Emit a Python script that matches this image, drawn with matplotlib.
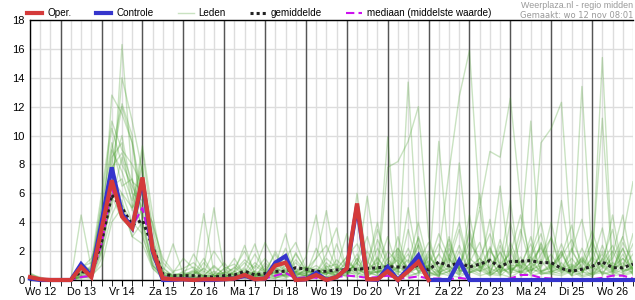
import numpy as np
import matplotlib
matplotlib.use("Agg")
import matplotlib.pyplot as plt

# --- data: 6-hourly values (mm), from Wo 12 06:00 to Do 27 00:00 ---
days = ["Wo 12", "Do 13", "Vr 14", "Za 15", "Zo 16", "Ma 17", "Di 18", "Wo 19",
        "Do 20", "Vr 21", "Za 22", "Zo 23", "Ma 24", "Di 25", "Wo 26"]
t = np.arange(1, 61) * 0.25          # time in days since Wo 12 00:00

oper = [0.2, 0.05, 0, 0, 0, 0.9, 0.2, 3.5, 6.9, 4.4, 3.6, 7.1, 2.1, 0.1, 0.05, 0.05,
        0.0, 0.05, 0.05, 0.05, 0.1, 0.35, 0.05, 0.1, 1.0, 1.2, 0.0, 0.05, 0.35, 0.0,
        0.2, 0.8, 5.3, 0.05, 0.05, 0.6, 0.0, 0.6, 1.25, 0.0]

controle = [0.1, 0, 0, 0, 0, 1.1, 0.3, 4.0, 7.8, 4.6, 3.6, 6.9, 2.0, 0.0, 0.0, 0.05,
            0, 0, 0, 0.05, 0.1, 0.3, 0.05, 0.1, 1.2, 1.65, 0.0, 0.05, 0.5, 0.0,
            0.2, 0.8, 5.1, 0.05, 0.0, 0.9, 0.0, 0.8, 1.7, 0.0, 0.0, 0.0, 1.35, 0,
            0, 0, 0, 0, 0, 0, 0, 0, 0, 0, 0, 0, 0, 0, 0, 0]

gemiddelde = [0.15, 0.05, 0, 0, 0, 0.6, 0.45, 2.6, 5.9, 5.0, 3.8, 4.15, 2.3, 0.4, 0.3,
              0.3, 0.3, 0.25, 0.2, 0.3, 0.35, 0.6, 0.35, 0.45, 0.6, 0.6, 0.85, 0.75,
              0.6, 0.6, 0.7, 0.7, 0.75, 0.8, 0.85, 0.92, 0.9, 0.88, 1.0, 0.7, 1.25,
              0.97, 1.2, 0.9, 1.1, 1.34, 0.92, 1.27, 1.3, 1.34, 1.2, 1.2, 0.8, 0.6,
              0.75, 0.95, 1.25, 0.85, 0.85, 1.1]

mediaan = [0.05, 0, 0, 0, 0, 0.2, 0.3, 2.5, 6.3, 4.6, 3.7, 5.0, 2.0, 0.2, 0.1, 0.1,
           0.05, 0.05, 0.05, 0.1, 0.1, 0.2, 0.05, 0.1, 0.3, 0.5, 0.1, 0.2, 0.15, 0.1,
           0.2, 0.3, 0.25, 0.15, 0.2, 0.3, 0.1, 0.15, 0.25, 0.1, 0.1, 0.05, 0.15, 0.05,
           0.05, 0.0, 0.05, 0.1, 0.35, 0.35, 0.15, 0.1, 0.05, 0.0, 0.05, 0.05, 0.15,
           0.3, 0.3, 0.1]

# ensemble members ("Leden"), 4 values per day
leden = [
    [0.4, 0.2, 0, 0, 0, 1.2, 0.6, 4.0, 8.5, 9.5, 5.0, 6.0, 2.5, 0.6, 0.2, 0.1, 0.3, 0, 0.2, 0.8,
     0.3, 0.5, 1.8, 0.6, 0.2, 1.5, 2.6, 0.8, 0.3, 1.0, 0.2, 0.6, 1.8, 0.5, 2.8, 1.2, 0.4, 3.5, 0.8, 1.0,
     0.2, 2.2, 0.6, 4.5, 0.8, 1.5, 0.3, 2.6, 0.9, 1.8, 4.0, 0.5, 1.2, 0.3, 2.2, 0.6, 1.4, 3.5, 0.4, 1.0],
    [0.2, 0, 0, 0, 0, 0.3, 0.2, 2.0, 12.8, 11.5, 9.5, 4.0, 1.0, 0.3, 0.5, 1.5, 0.8, 0.2, 0, 0.1,
     0.6, 2.4, 0.4, 0.3, 0.7, 0.2, 0.5, 1.6, 4.5, 0.6, 0.2, 0.4, 1.2, 3.0, 0.5, 0.9, 0.6, 13.7, 2.0, 0.5,
     0.3, 1.4, 0.8, 3.2, 0.6, 2.0, 1.1, 5.5, 0.2, 0.8, 2.5, 0.5, 1.7, 3.8, 0.6, 0.2, 1.5, 0.8, 2.2, 0.3],
    [0.1, 0, 0, 0, 0, 0.8, 1.5, 3.0, 5.0, 16.3, 7.0, 4.5, 3.0, 0.4, 0.1, 0, 0.2, 4.6, 0.5, 0.2,
     0.1, 0.4, 0.3, 0.6, 1.8, 0.5, 0.2, 0.8, 0.3, 1.2, 0.5, 0.2, 1.5, 0.4, 0.8, 9.9, 1.0, 0.4, 2.5, 0.6,
     0.2, 2.5, 0.8, 1.2, 6.0, 0.4, 1.0, 0.3, 2.8, 11.0, 0.5, 0.6, 2.0, 0.3, 1.6, 0.8, 15.4, 0.7, 1.2, 0.4],
    [0.3, 0.1, 0, 0, 0, 4.5, 0.8, 5.5, 10.5, 8.0, 6.5, 5.0, 4.0, 1.2, 0.5, 0.3, 0.2, 0.8, 5.0, 0.6,
     0.3, 0.9, 2.5, 0.4, 1.0, 3.2, 0.6, 0.3, 1.5, 4.8, 0.9, 0.5, 6.0, 1.3, 0.4, 7.8, 8.2, 9.6, 12.0, 3.0,
     0.6, 1.5, 0.4, 2.0, 5.0, 0.5, 2.0, 0.6, 1.3, 0.4, 2.6, 1.0, 0.5, 1.0, 0.3, 2.8, 0.9, 0.4, 1.5, 0.8],
    [0.2, 0, 0, 0, 0, 0.2, 0.1, 1.5, 6.0, 14.0, 11.0, 7.5, 2.0, 0.2, 0, 0.1, 0.1, 0.3, 0, 0.1,
     0.2, 0.8, 0.2, 1.2, 0.5, 0.3, 1.9, 0.6, 0.4, 0.2, 0.7, 1.6, 0.5, 0.2, 0.9, 3.0, 0.6, 5.0, 1.0, 0.4,
     1.8, 7.5, 12.7, 15.9, 5.0, 8.9, 8.5, 12.6, 5.4, 0.6, 1.2, 4.0, 0.8, 2.2, 0.6, 1.2, 3.6, 0.4, 1.0, 2.5],
    [0, 0, 0, 0, 0, 0.6, 0.4, 3.8, 7.0, 6.0, 4.0, 9.0, 3.5, 0.8, 0.3, 0.4, 0.6, 0.2, 0.4, 0.5,
     1.5, 0.3, 0.2, 0.4, 2.0, 0.7, 0.3, 0.5, 0.8, 0.3, 2.5, 0.6, 0.3, 1.1, 4.0, 0.5, 1.6, 0.8, 2.9, 0.5,
     9.6, 1.2, 3.5, 0.8, 0.4, 2.3, 0.5, 1.0, 1.0, 0.6, 9.5, 10.5, 12.3, 2.0, 0.9, 2.2, 0.3, 1.8, 4.5, 0.6],
    [0.3, 0, 0, 0, 0, 0.4, 0.9, 5.0, 9.0, 7.5, 5.5, 8.0, 1.5, 0.3, 0.1, 0.2, 0.4, 1.5, 0.3, 0.2,
     0.5, 1.2, 0.4, 0.2, 0.6, 2.2, 0.4, 0.3, 0.5, 1.8, 3.6, 0.5, 0.8, 0.4, 1.5, 0.6, 2.2, 0.7, 0.3, 1.8,
     0.5, 0.8, 8.1, 1.2, 0.6, 1.5, 0.4, 2.2, 0.7, 3.0, 0.5, 1.0, 1.8, 0.6, 13.4, 1.4, 11.2, 0.5, 3.0, 0.8],
    [0.1, 0, 0, 0, 0, 0.2, 0.5, 2.5, 5.5, 8.5, 6.0, 3.5, 1.2, 0.2, 0.1, 0.1, 0.2, 0.1, 0.4, 1.2,
     0.3, 0.2, 0.6, 0.4, 0.2, 0.3, 0.8, 0.4, 0.3, 0.6, 0.5, 1.2, 0.7, 0.5, 1.6, 0.4, 0.9, 1.8, 0.6, 1.0,
     2.5, 1.0, 0.3, 1.5, 0.9, 0.3, 0.8, 2.0, 0.4, 1.2, 0.6, 0.8, 2.0, 0.5, 0.9, 0.3, 0.8, 1.5, 3.0, 6.8],
    [0.5, 0.1, 0, 0, 0, 0.1, 0.3, 1.0, 4.0, 5.0, 3.0, 2.5, 0.8, 0.1, 0, 0, 0.1, 0, 0.1, 0.2,
     0.4, 0.1, 0.3, 0.2, 0.1, 0.4, 0.2, 0.3, 0.2, 0.5, 0.3, 0.9, 0.4, 0.6, 0.3, 1.5, 0.5, 0.9, 2.4, 0.3,
     0.4, 0.6, 1.3, 0.5, 1.2, 0.4, 0.3, 0.9, 0.6, 1.6, 0.4, 0.5, 0.9, 0.3, 0.5, 1.5, 0.4, 0.6, 0.3, 0.5],
    [0.3, 0, 0, 0, 0, 0.9, 1.2, 6.0, 11.0, 9.0, 8.0, 6.5, 3.8, 1.5, 0.6, 0.8, 1.2, 0.5, 2.0, 0.9,
     0.6, 1.4, 0.8, 2.6, 1.2, 0.6, 1.8, 0.7, 1.5, 2.4, 0.8, 1.6, 2.5, 1.0, 3.5, 1.4, 2.2, 1.2, 4.0, 1.0,
     3.2, 1.5, 0.9, 2.6, 1.5, 3.2, 1.1, 1.8, 4.5, 1.3, 2.3, 0.9, 1.6, 2.8, 1.2, 3.4, 1.2, 2.4, 0.8, 1.8],
    [0.2, 0, 0, 0, 0, 0.5, 0.8, 4.5, 7.5, 10.0, 6.0, 5.5, 2.2, 0.5, 0.3, 0.2, 0.6, 0.3, 1.0, 0.4,
     0.2, 0.6, 0.3, 0.8, 0.4, 1.0, 0.5, 0.9, 0.6, 0.4, 1.4, 0.7, 1.0, 5.8, 0.9, 0.6, 1.8, 0.7, 1.2, 2.6,
     0.8, 1.6, 4.0, 0.9, 1.5, 0.5, 2.8, 0.6, 3.5, 0.9, 1.4, 0.4, 0.7, 2.0, 4.2, 0.9, 1.8, 0.6, 2.6, 1.2],
    [0.3, 0.1, 0, 0, 0, 0.3, 0.6, 3.0, 6.5, 7.0, 4.8, 7.8, 2.8, 0.4, 0.2, 0.1, 0.1, 0.2, 0.6, 0.3,
     0.9, 0.3, 0.2, 0.5, 0.3, 0.4, 1.2, 0.5, 0.4, 0.8, 0.3, 0.5, 0.6, 0.9, 0.5, 2.0, 1.2, 0.4, 0.9, 0.5,
     0.6, 2.8, 0.7, 0.5, 0.9, 4.2, 0.6, 0.8, 0.5, 1.2, 2.2, 0.6, 0.8, 1.1, 0.6, 0.4, 2.4, 0.7, 0.5, 1.3],
    [0, 0, 0, 0, 0, 0.7, 0.3, 3.2, 8.0, 12.0, 9.5, 5.8, 1.8, 0.3, 0.2, 0.6, 0.9, 0.4, 0.2, 0.5,
     0.4, 0.7, 0.4, 0.3, 0.5, 0.2, 0.6, 0.9, 0.7, 0.4, 0.6, 0.8, 0.9, 0.6, 0.5, 1.2, 0.7, 2.2, 0.5, 1.6,
     0.9, 0.4, 2.0, 0.6, 1.5, 0.8, 0.5, 4.0, 0.9, 0.5, 1.8, 2.9, 0.6, 0.9, 1.5, 0.5, 1.1, 0.6, 2.2, 0.6],
    [0.2, 0, 0, 0, 0, 0.4, 1.0, 5.0, 9.5, 6.5, 7.0, 3.0, 1.0, 0.2, 0.4, 0.3, 1.8, 0.6, 0.3, 0.2,
     0.6, 0.2, 1.0, 0.5, 0.3, 0.8, 0.4, 0.6, 1.0, 0.5, 0.4, 1.4, 0.6, 2.0, 0.7, 0.5, 3.0, 0.6, 1.5, 0.8,
     1.2, 0.6, 2.4, 0.5, 0.8, 1.5, 6.5, 0.7, 1.1, 2.5, 0.6, 0.9, 5.5, 0.8, 0.5, 1.6, 0.9, 2.0, 0.6, 0.8],
    [0.1, 0, 0, 0, 0, 0.2, 0.2, 1.8, 4.5, 6.0, 5.0, 9.3, 4.5, 0.9, 0.2, 0.3, 0.5, 0.3, 0.2, 0.8,
     1.1, 0.4, 0.6, 1.5, 0.5, 0.3, 0.6, 0.4, 2.2, 0.7, 0.5, 0.3, 1.5, 0.4, 0.6, 0.5, 0.8, 1.4, 0.6, 2.0,
     0.5, 0.9, 0.6, 1.2, 2.6, 0.5, 1.0, 0.4, 1.6, 0.4, 0.9, 1.8, 0.5, 0.8, 1.3, 0.4, 1.0, 0.5, 1.8, 0.7],
    [0.2, 0, 0, 0, 0, 1.0, 0.4, 2.2, 5.8, 4.2, 3.5, 5.0, 1.6, 0.2, 0.1, 0.1, 0.2, 0.1, 0.2, 0.1,
     0.3, 0.1, 0.5, 0.2, 0.1, 0.6, 0.2, 0.3, 0.4, 0.2, 0.3, 0.6, 0.8, 0.3, 0.6, 0.4, 0.6, 0.3, 0.5, 0.9,
     0.3, 0.6, 0.4, 0.5, 0.7, 0.3, 0.8, 0.5, 0.6, 0.9, 0.4, 0.6, 0.4, 0.7, 0.3, 0.5, 0.6, 0.3, 0.8, 0.5],
    [0.3, 0, 0, 0, 0, 0.6, 0.2, 3.5, 6.0, 5.5, 3.0, 4.0, 1.5, 0.5, 2.5, 0.4, 0.3, 1.2, 0.3, 0.5,
     0.8, 2.0, 0.5, 0.3, 0.9, 0.4, 1.4, 0.6, 0.5, 1.5, 0.8, 3.2, 1.1, 0.6, 2.2, 0.8, 1.4, 0.7, 3.0, 0.9,
     0.6, 1.8, 0.7, 3.5, 0.9, 2.2, 0.6, 1.5, 0.8, 1.6, 3.2, 0.7, 2.5, 0.6, 1.4, 0.8, 2.0, 0.9, 1.5, 0.6],
    [0.1, 0, 0, 0, 0, 0.3, 0.8, 4.2, 7.8, 8.8, 6.8, 6.2, 2.0, 0.6, 0.3, 0.5, 0.4, 0.8, 0.3, 0.3,
     0.2, 0.4, 1.2, 0.6, 0.8, 0.5, 0.3, 0.7, 0.3, 0.9, 1.1, 0.4, 0.5, 0.8, 1.2, 0.6, 0.9, 0.5, 1.1, 0.8,
     1.8, 0.7, 0.5, 0.9, 0.6, 0.9, 1.9, 0.5, 1.3, 0.7, 0.6, 1.1, 0.7, 1.5, 0.6, 0.9, 0.5, 1.2, 0.7, 3.2],
    [0.2, 0, 0, 0, 0, 0.5, 0.3, 2.8, 9.0, 12.2, 10.0, 4.0, 1.0, 0.3, 0.2, 0.3, 0.7, 0.3, 0.9, 0.4,
     0.2, 0.5, 0.3, 1.0, 0.4, 1.8, 0.5, 0.3, 0.6, 0.4, 0.9, 0.5, 1.2, 0.5, 0.8, 0.4, 2.0, 0.6, 0.8, 1.3,
     0.4, 3.0, 0.6, 0.9, 1.0, 0.4, 2.4, 0.8, 0.5, 0.7, 1.0, 3.0, 0.8, 0.4, 1.1, 2.6, 0.9, 4.5, 0.6, 0.9],
    [0.4, 0.1, 0, 0, 0, 0.2, 0.4, 2.0, 6.8, 5.2, 4.0, 3.2, 0.8, 0.2, 0.1, 0.1, 0.3, 0.2, 0.1, 0.2,
     0.1, 0.2, 0.2, 0.3, 0.2, 0.1, 0.5, 0.2, 0.3, 0.2, 0.4, 0.3, 0.2, 0.5, 0.3, 0.6, 0.4, 0.2, 0.5, 0.4,
     0.5, 0.3, 0.2, 0.6, 0.3, 0.5, 0.4, 0.2, 0.6, 0.3, 0.5, 0.4, 0.3, 0.6, 0.2, 0.4, 0.5, 0.3, 0.4, 0.6],
]

plt.rcParams['font.family'] = ['Liberation Sans', 'DejaVu Sans']

fig = plt.figure(figsize=(6.35, 3.0), dpi=100)
ax = fig.add_axes([30 / 635, 20 / 300, 603 / 635, 260 / 300])

green = '#3f9a22'
for i, m in enumerate(leden):
    ax.plot(t, m, color=green, lw=1.0, alpha=0.28, zorder=2,
            label='Leden' if i == 0 else None)

h_med, = ax.plot(t, mediaan, color='#cc11ee', lw=1.5, ls=(0, (4, 2)), zorder=3,
                 label='mediaan (middelste waarde)')
h_mean, = ax.plot(t, gemiddelde, color='#222222', lw=2.2, ls=(0, (1, 1)), zorder=4,
                  label='gemiddelde')
h_ctrl, = ax.plot(t[:len(controle)], controle, color='#3535cc', lw=3, zorder=5,
                  label='Controle', solid_joinstyle='miter', clip_on=False)
h_oper, = ax.plot(t[:len(oper)], oper, color='#d43a3a', lw=3, zorder=6,
                  label='Oper.', solid_joinstyle='miter', clip_on=False)

# axes / grid
ax.set_xlim(0.25, 15.0)
ax.set_ylim(0, 18)
ax.set_yticks(np.arange(0, 19, 2))
ax.set_xticks(np.arange(len(days)) + 0.5)
ax.set_xticklabels(days)
ax.set_xticks(np.arange(0.25, 15.01, 0.25), minor=True)
ax.grid(axis='y', color='#dddddd', lw=1)
ax.grid(axis='x', which='both', color='#dddddd', lw=1)
ax.set_axisbelow(True)
ax.vlines(np.arange(1, len(days)), 0, 18, color='#555555', lw=1, zorder=1.5)
ax.tick_params(axis='y', length=0, pad=4, labelsize=8)
ax.tick_params(axis='x', which='both', direction='out', length=4, color='black',
               labelsize=7.8, pad=1)
for s in ['left', 'bottom', 'top']:
    ax.spines[s].set_color('black')
    ax.spines[s].set_linewidth(1)
ax.spines['right'].set_visible(False)

# legend
handles = [h_oper, h_ctrl, ax.lines[0], h_mean, h_med]
labels = ['Oper.', 'Controle', 'Leden', 'gemiddelde', 'mediaan (middelste waarde)']
fig.legend(handles, labels, ncol=5, loc='center left', bbox_to_anchor=(27 / 635, 1 - 13 / 300),
           frameon=False, fontsize=7.1, handlelength=1.55, handletextpad=0.5,
           columnspacing=2.5, borderpad=0, borderaxespad=0)

fig.text(633 / 635, 1 - 5 / 300, 'Weerplaza.nl - regio midden', ha='right', va='center',
         fontsize=6.4, color='#999999')
fig.text(633 / 635, 1 - 15 / 300, 'Gemaakt: wo 12 nov 08:01', ha='right', va='center',
         fontsize=6.0, color='#999999', family='DejaVu Sans')

fig.savefig('out.png', dpi=100)
